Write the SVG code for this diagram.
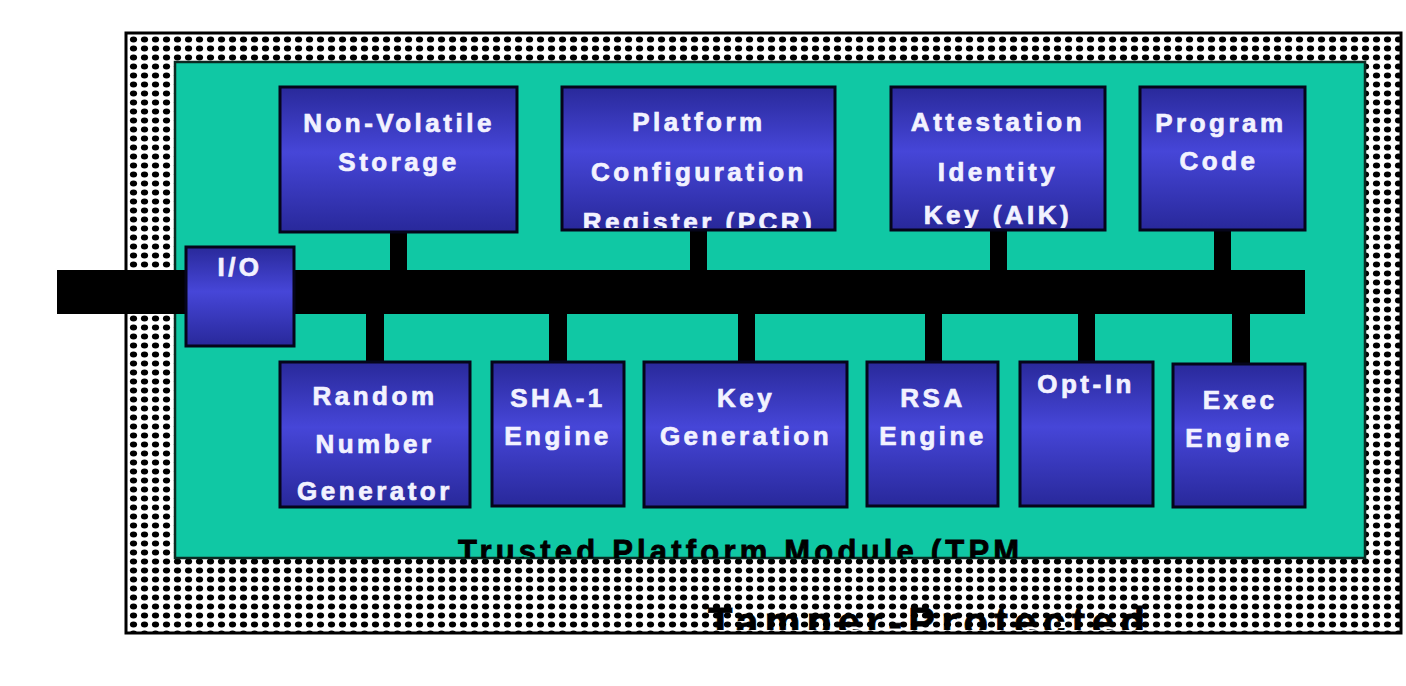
<svg xmlns="http://www.w3.org/2000/svg" width="1406" height="686" viewBox="0 0 1406 686">
<defs>
<pattern id="dots" x="128" y="35" width="11" height="9" patternUnits="userSpaceOnUse">
<rect width="11" height="9" fill="#ffffff"/>
<ellipse cx="5.5" cy="4.5" rx="3.6" ry="2.9" fill="#000000"/>
</pattern>
<linearGradient id="blue" x1="0" y1="0" x2="0" y2="1">
<stop offset="0" stop-color="#29299a"/>
<stop offset="0.45" stop-color="#4646d8"/>
<stop offset="1" stop-color="#28289a"/>
</linearGradient>
<clipPath id="tamperClip"><rect x="126" y="33" width="1275" height="597"/></clipPath>
<clipPath id="tpmClip"><rect x="175" y="62" width="1190" height="496"/></clipPath>
<clipPath id="pcrClip"><rect x="562" y="87" width="273" height="141"/></clipPath>
<clipPath id="aikClip"><rect x="891" y="87" width="214" height="141"/></clipPath>
<style>
.box{fill:url(#blue);stroke:#05051a;stroke-width:3}
.lbl{font-family:"Liberation Sans",Arial,sans-serif;font-weight:bold;font-size:26px;letter-spacing:3.5px;fill:#f2f2ff;stroke:#f2f2ff;stroke-width:0.7;text-anchor:middle}
.bus{fill:#000000}
.cap{font-family:"Liberation Sans",Arial,sans-serif;font-weight:bold;fill:#000000;stroke:#000000;stroke-width:0.8}
</style>
</defs>
<rect width="1406" height="686" fill="#ffffff"/>
<g id="tamper-protected">
<rect x="126" y="33" width="1275" height="600" fill="url(#dots)"/>
<text class="cap" x="708" y="636" font-size="40" letter-spacing="6.5" clip-path="url(#tamperClip)">Tamper-Protected</text>
<rect x="126" y="33" width="1275" height="600" fill="none" stroke="#000" stroke-width="3"/>
</g>
<g id="tpm">
<rect x="175" y="62" width="1190" height="496" fill="#10c8a4" stroke="#0a2a22" stroke-width="2.5"/>
<text class="cap" x="458" y="562" font-size="31" letter-spacing="4.2" clip-path="url(#tpmClip)">Trusted Platform Module (TPM</text>
</g>
<g id="connectors">
<rect class="bus" x="57" y="270" width="1248" height="44"/>
<rect class="bus" x="390" y="230" width="17" height="42"/>
<rect class="bus" x="690" y="228" width="17" height="44"/>
<rect class="bus" x="990" y="228" width="17" height="44"/>
<rect class="bus" x="1214" y="228" width="17" height="44"/>
<rect class="bus" x="366" y="312" width="18" height="52"/>
<rect class="bus" x="549" y="312" width="18" height="52"/>
<rect class="bus" x="738" y="312" width="17" height="52"/>
<rect class="bus" x="925" y="312" width="17" height="52"/>
<rect class="bus" x="1078" y="312" width="17" height="52"/>
<rect class="bus" x="1232" y="312" width="18" height="54"/>
</g>
<g id="io">
<rect class="box" x="186" y="247" width="108" height="99"/>
<text class="lbl" x="240" y="276" letter-spacing="2">I/O</text>
</g>
<g id="non-volatile-storage">
<rect class="box" x="280" y="87" width="237" height="145"/>
<text class="lbl" x="399" y="132" letter-spacing="5.8">Non-Volatile</text>
<text class="lbl" x="399" y="171">Storage</text>
</g>
<g id="pcr">
<rect class="box" x="562" y="87" width="273" height="143"/>
<g clip-path="url(#pcrClip)">
<text class="lbl" x="699" y="131">Platform</text>
<text class="lbl" x="699" y="181">Configuration</text>
<text class="lbl" x="699" y="231">Register (PCR)</text>
</g>
</g>
<g id="aik">
<rect class="box" x="891" y="87" width="214" height="143"/>
<g clip-path="url(#aikClip)">
<text class="lbl" x="998" y="131">Attestation</text>
<text class="lbl" x="998" y="181">Identity</text>
<text class="lbl" x="998" y="224">Key (AIK)</text>
</g>
</g>
<g id="program-code">
<rect class="box" x="1140" y="87" width="165" height="143"/>
<text class="lbl" x="1221" y="132">Program</text>
<text class="lbl" x="1219" y="170">Code</text>
</g>
<g id="rng">
<rect class="box" x="280" y="362" width="190" height="145"/>
<text class="lbl" x="375" y="405">Random</text>
<text class="lbl" x="375" y="453">Number</text>
<text class="lbl" x="375" y="500">Generator</text>
</g>
<g id="sha1">
<rect class="box" x="492" y="362" width="132" height="144"/>
<text class="lbl" x="558" y="407">SHA-1</text>
<text class="lbl" x="558" y="445">Engine</text>
</g>
<g id="keygen">
<rect class="box" x="644" y="362" width="203" height="145"/>
<text class="lbl" x="746" y="407">Key</text>
<text class="lbl" x="746" y="445">Generation</text>
</g>
<g id="rsa">
<rect class="box" x="867" y="362" width="131" height="144"/>
<text class="lbl" x="933" y="407">RSA</text>
<text class="lbl" x="933" y="445">Engine</text>
</g>
<g id="opt-in">
<rect class="box" x="1020" y="362" width="133" height="144"/>
<text class="lbl" x="1086" y="393">Opt-In</text>
</g>
<g id="exec-engine">
<rect class="box" x="1173" y="364" width="132" height="143"/>
<text class="lbl" x="1240" y="409">Exec</text>
<text class="lbl" x="1239" y="447">Engine</text>
</g>
</svg>
